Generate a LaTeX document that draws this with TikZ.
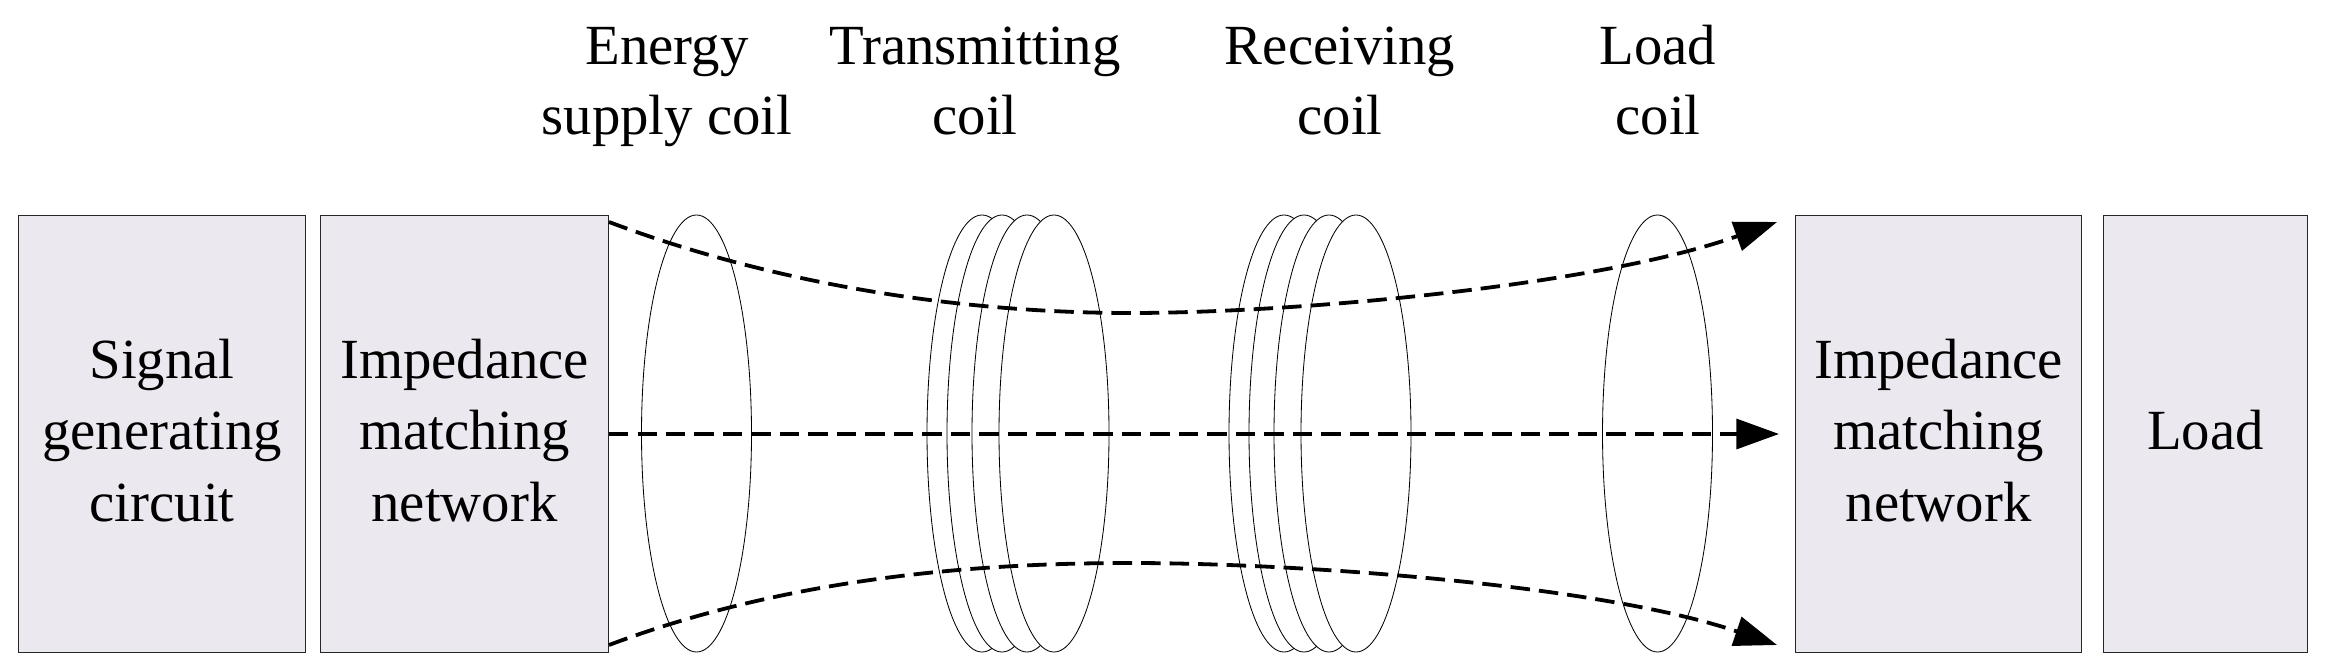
\documentclass[tikz,border=0pt]{standalone}
\usepackage{fontspec}
\setmainfont{Liberation Serif}
\usetikzlibrary{arrows.meta}
\definecolor{boxfill}{RGB}{235,232,240}
\newcommand{\fsz}{\fontsize{23.9}{30}\selectfont}
\newcommand{\fszb}{\fontsize{23.9}{29.3}\selectfont}
\newcommand{\bstrut}{\rule{0pt}{22.3pt}}
\def\u{0.0148cm}
\tikzset{
 box/.style={draw=black!85,line width=0.5pt,fill=boxfill,anchor=north west,inner sep=0pt,align=center,font=\fsz},
 coil/.style={draw=black,line width=0.35pt,fill=white},
 lab/.style={align=center,font=\fszb,inner sep=0pt},
 flow/.style={line width=1.6pt,dash pattern=on 8.2pt off 3.8pt,-{Triangle[length=18pt,width=12.6pt]}}
}
\begin{document}
\begin{tikzpicture}[x=0.0148cm,y=-0.0148cm]
\useasboundingbox (0,0) rectangle (2327,668);
\fill[white] (0,0) rectangle (2327,668);
\node[box,minimum width=287*\u,minimum height=437*\u] (sig) at (18,215) {\bstrut Signal\\\strut generating\\\strut circuit};
\node[box,minimum width=288*\u,minimum height=437*\u] (imp1) at (320,215) {\bstrut Impedance\\\strut matching\\\strut network};
\node[box,minimum width=286*\u,minimum height=437*\u] (imp2) at (1795,215) {\bstrut Impedance\\\strut matching\\\strut network};
\node[box,minimum width=204*\u,minimum height=437*\u] (load) at (2103,215) {\bstrut Load\strut};
\foreach \x in {696.5,982,1002,1027,1054,1284,1304,1329,1356,1657.5}
  \path[coil] (\x,433.5) ellipse [x radius=55,y radius=218.5];
\node[lab] (t1) at (667,85.5) {\strut Energy\\\strut supply coil};
\node[lab] (t2) at (975,85.5) {\strut Transmitting\\\strut coil};
\node[lab] (t3) at (1340,85.5) {\strut Receiving\\\strut coil};
\node[lab] (t4) at (1658,85.5) {\strut Load\\\strut coil};
\coordinate (a1) at (609,222);
\coordinate (e1) at (1777,222);
\coordinate (a2) at (609,434);
\coordinate (e2) at (1779,434);
\coordinate (a3) at (609,645);
\coordinate (e3) at (1777,645);
\draw[flow] (a1) .. controls (790,290) and (980,313) .. (1130,313) .. controls (1300,313) and (1600,285) .. (e1);
\draw[flow] (a2) -- (e2);
\draw[flow] (a3) .. controls (790,577) and (980,563) .. (1130,563) .. controls (1300,563) and (1600,585) .. (e3);
\end{tikzpicture}
\end{document}
